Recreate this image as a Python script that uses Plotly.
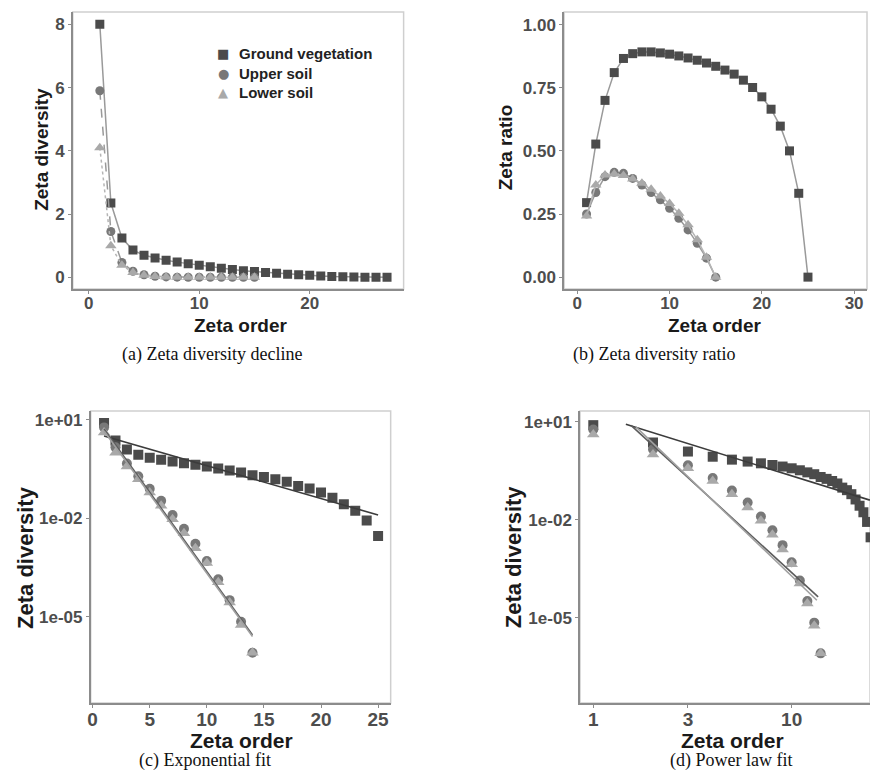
import plotly.graph_objects as go

# ---------------- data ----------------
order_gv = [1, 2, 3, 4, 5, 6, 7, 8, 9, 10, 11, 12, 13, 14, 15, 16, 17, 18, 19, 20, 21, 22, 23, 24, 25, 26, 27]
order_soil = [1, 2, 3, 4, 5, 6, 7, 8, 9, 10, 11, 12, 13, 14, 15]

zeta_ground_veg = [8.0, 2.35, 1.24, 0.86, 0.70, 0.61, 0.54, 0.48, 0.43, 0.38, 0.33, 0.285, 0.25,
                   0.205, 0.18, 0.155, 0.13, 0.097, 0.081, 0.061, 0.042, 0.027, 0.017, 0.0086,
                   0.0029, 0.0, 0.0]
zeta_upper_soil = [5.9, 1.45, 0.47, 0.19, 0.079, 0.034, 0.0126, 0.0048, 0.00167, 0.0005,
                   0.000138, 3.2e-5, 7e-6, 8e-7, 0.0]
zeta_lower_soil = [4.1, 1.0, 0.38, 0.155, 0.061, 0.024, 0.0093, 0.0035, 0.00122, 0.00043,
                   0.000112, 2.7e-5, 5.6e-6, 8e-7, 0.0]

ratio_order_gv = [1, 2, 3, 4, 5, 6, 7, 8, 9, 10, 11, 12, 13, 14, 15, 16, 17, 18, 19, 20, 21, 22, 23, 24, 25]
ratio_ground_veg = [0.295, 0.527, 0.70, 0.81, 0.866, 0.885, 0.892, 0.892, 0.888, 0.883, 0.876,
                    0.868, 0.859, 0.848, 0.835, 0.82, 0.804, 0.78, 0.751, 0.714, 0.665, 0.598,
                    0.50, 0.332, 0.0]
ratio_upper_soil = [0.25, 0.335, 0.398, 0.415, 0.411, 0.391, 0.365, 0.335, 0.306, 0.273, 0.233,
                    0.187, 0.134, 0.075, 0.0]
ratio_lower_soil = [0.242, 0.365, 0.404, 0.408, 0.402, 0.389, 0.372, 0.348, 0.321, 0.292, 0.253,
                    0.207, 0.148, 0.079, 0.0]

# fitted lines
exp_fit_x_gv = [1, 25]
exp_fit_gv = [3.2, 0.0126]
exp_fit_x_soil = [1, 14]
exp_fit_upper = [5.25, 2.8e-6]
exp_fit_lower = [4.57, 2.5e-6]

pow_fit_x_gv = [1.46, 24.8]
pow_fit_gv = [8.5, 0.040]
pow_fit_x_upper = [1.55, 13.6]
pow_fit_upper = [7.9, 4.3e-5]
pow_fit_x_lower = [1.64, 13.4]
pow_fit_lower = [7.1, 3.4e-5]

series_names = ["Ground vegetation", "Upper soil", "Lower soil"]

# ---------------- style ----------------
C_GV, C_UP, C_LO = "#4b4b4b", "#787878", "#a9a9a9"
LINE_GREY = "#9a9a9a"
SANS = "Liberation Sans, Arial, sans-serif"
SERIF = "Liberation Serif, Times New Roman, serif"
W, H = 870, 776


def positive(xs, ys):
    pts = [(a, b) for a, b in zip(xs, ys) if b > 0]
    return [p[0] for p in pts], [p[1] for p in pts]


fig = go.Figure()

# ----- (a) decline -----
fig.add_trace(go.Scatter(x=order_gv, y=zeta_ground_veg, mode="lines+markers", xaxis="x", yaxis="y",
                         line=dict(color=LINE_GREY, width=1.5),
                         marker=dict(symbol="square", size=9, color=C_GV)))
fig.add_trace(go.Scatter(x=order_soil, y=zeta_upper_soil, mode="lines+markers", xaxis="x", yaxis="y",
                         line=dict(color=LINE_GREY, width=1.5, dash="dash"),
                         marker=dict(symbol="circle", size=9, color=C_UP)))
fig.add_trace(go.Scatter(x=order_soil, y=zeta_lower_soil, mode="lines+markers", xaxis="x", yaxis="y",
                         line=dict(color="#b5b5b5", width=1.5, dash="dot"),
                         marker=dict(symbol="triangle-up", size=10, color=C_LO)))

# ----- (b) ratio -----
fig.add_trace(go.Scatter(x=ratio_order_gv, y=ratio_ground_veg, mode="lines+markers", xaxis="x2", yaxis="y2",
                         line=dict(color=LINE_GREY, width=1.5),
                         marker=dict(symbol="square", size=9, color=C_GV)))
fig.add_trace(go.Scatter(x=order_soil, y=ratio_upper_soil, mode="lines+markers", xaxis="x2", yaxis="y2",
                         line=dict(color=LINE_GREY, width=1.5),
                         marker=dict(symbol="circle", size=9, color=C_UP)))
fig.add_trace(go.Scatter(x=order_soil, y=ratio_lower_soil, mode="lines+markers", xaxis="x2", yaxis="y2",
                         line=dict(color="#b5b5b5", width=1.5),
                         marker=dict(symbol="triangle-up", size=10, color=C_LO)))

# ----- (c) exponential & (d) power law -----
for xa, ya in (("x3", "y3"), ("x4", "y4")):
    for xs, ys, sym, col, sz in ((order_gv, zeta_ground_veg, "square", C_GV, 10),
                                 (order_soil, zeta_upper_soil, "circle", C_UP, 10),
                                 (order_soil, zeta_lower_soil, "triangle-up", C_LO, 11)):
        px, py = positive(xs, ys)
        fig.add_trace(go.Scatter(x=px, y=py, mode="markers", xaxis=xa, yaxis=ya,
                                 marker=dict(symbol=sym, size=sz, color=col)))

fig.add_trace(go.Scatter(x=exp_fit_x_gv, y=exp_fit_gv, mode="lines", xaxis="x3", yaxis="y3",
                         line=dict(color="#3c3c3c", width=1.6)))
fig.add_trace(go.Scatter(x=exp_fit_x_soil, y=exp_fit_upper, mode="lines", xaxis="x3", yaxis="y3",
                         line=dict(color="#5c5c5c", width=1.6)))
fig.add_trace(go.Scatter(x=exp_fit_x_soil, y=exp_fit_lower, mode="lines", xaxis="x3", yaxis="y3",
                         line=dict(color="#a0a0a0", width=1.6)))

fig.add_trace(go.Scatter(x=pow_fit_x_gv, y=pow_fit_gv, mode="lines", xaxis="x4", yaxis="y4",
                         line=dict(color="#3c3c3c", width=1.6)))
fig.add_trace(go.Scatter(x=pow_fit_x_upper, y=pow_fit_upper, mode="lines", xaxis="x4", yaxis="y4",
                         line=dict(color="#5c5c5c", width=1.6)))
fig.add_trace(go.Scatter(x=pow_fit_x_lower, y=pow_fit_lower, mode="lines", xaxis="x4", yaxis="y4",
                         line=dict(color="#a0a0a0", width=1.6)))

# ---------------- axes ----------------
tick_font_ab = dict(family=SANS, size=17, color="#4d4d4d", weight="bold")
tick_font_cd_y = dict(family=SANS, size=17, color="#4d4d4d", weight="bold")
tick_font_cd_x = dict(family=SANS, size=19, color="#4d4d4d", weight="bold")
common = dict(showgrid=False, zeroline=False, showline=True, linecolor="#8c8c8c", linewidth=1.5,
              ticks="outside", ticklen=3, tickwidth=1, tickcolor="#8c8c8c", mirror=False,
              fixedrange=True)
xcommon = dict(common, ticklabelstandoff=-5)


def dom_x(a, b):
    return [a / W, b / W]


def dom_y(top, bottom):
    return [1 - bottom / H, 1 - top / H]


fig.update_layout(
    xaxis=dict(xcommon, domain=dom_x(70, 402), range=[-1.45, 28.5], tickvals=[0, 10, 20],
               tickfont=tick_font_ab, anchor="y"),
    yaxis=dict(common, domain=dom_y(12, 289), range=[-0.37, 8.39], tickvals=[0, 2, 4, 6, 8],
               tickfont=tick_font_ab, anchor="x"),
    xaxis2=dict(xcommon, domain=dom_x(563, 867), range=[-1.44, 31.4], tickvals=[0, 10, 20, 30],
                tickfont=tick_font_ab, anchor="y2"),
    yaxis2=dict(common, domain=dom_y(12, 289), range=[-0.047, 1.05],
                tickvals=[0, 0.25, 0.5, 0.75, 1.0],
                ticktext=["0.00", "0.25", "0.50", "0.75", "1.00"],
                tickfont=tick_font_ab, anchor="x2"),
    xaxis3=dict(xcommon, domain=dom_x(88, 389), range=[-0.17, 26.1], tickvals=[0, 5, 10, 15, 20, 25],
                tickfont=tick_font_cd_x, anchor="y3"),
    yaxis3=dict(common, type="log", domain=dom_y(411, 703), range=[-7.63, 1.27],
                tickvals=[10, 0.01, 1e-5], ticktext=["1e+01", "1e-02", "1e-05"],
                tickfont=tick_font_cd_y, anchor="x3"),
    xaxis4=dict(xcommon, type="log", domain=dom_x(579, 870), range=[-0.067, 1.395],
                tickvals=[1, 3, 10], ticktext=["1", "3", "10"],
                tickfont=tick_font_cd_x, anchor="y4"),
    yaxis4=dict(common, type="log", domain=dom_y(411, 703), range=[-7.62, 1.337],
                tickvals=[10, 0.01, 1e-5], ticktext=["1e+01", "1e-02", "1e-05"],
                tickfont=tick_font_cd_y, anchor="x4"),
)

# light panel borders (top / right)
shapes = []
for xa, ya in (("x", "y"), ("x2", "y2"), ("x3", "y3"), ("x4", "y4")):
    shapes.append(dict(type="rect", xref=f"{xa} domain", yref=f"{ya} domain", x0=0, x1=1, y0=0, y1=1,
                       line=dict(color="#cfcfcf", width=1.5), layer="below"))

# ---------------- text ----------------
ann = []


def txt(x, y, s, size, family=SANS, bold=True, angle=0, color="#1a1a1a", xanchor="center", align="center"):
    ann.append(dict(x=x / W, y=1 - y / H, xref="paper", yref="paper", text=s, showarrow=False,
                    textangle=angle, xanchor=xanchor, yanchor="middle", align=align,
                    font=dict(family=family, size=size, color=color,
                              weight="bold" if bold else "normal")))


# axis titles
txt(239, 325, "Zeta order", 19)
txt(714, 325, "Zeta order", 19)
txt(38, 149, "Zeta diversity", 19, angle=-90)
txt(504, 147, "Zeta ratio", 19, angle=-90)
txt(239, 740, "Zeta order", 21)
txt(732, 740, "Zeta order", 21)
txt(22, 557, "Zeta diversity", 22, angle=-90)
txt(512, 557, "Zeta diversity", 22, angle=-90)

# captions
txt(210, 355, "(a) Zeta diversity decline", 18, family=SERIF, bold=False, color="#111")
txt(653, 355, "(b) Zeta diversity ratio", 18, family=SERIF, bold=False, color="#111")
txt(203, 760, "(c) Exponential fit", 18, family=SERIF, bold=False, color="#111")
txt(731, 760, "(d) Power law fit", 18, family=SERIF, bold=False, color="#111")

# legend of panel (a): names as one block, symbols aligned to its lines
LEG_FONT = 15
leg_mid = 73
leg_step = LEG_FONT * 1.3
txt(235, leg_mid, "<br>".join(series_names), LEG_FONT, xanchor="left", align="left", color="#222")
legend_syms = ["■", "●", "▲"]
legend_cols = [C_GV, C_UP, C_LO]
for i, (s, c) in enumerate(zip(legend_syms, legend_cols)):
    txt(221, leg_mid + (i - 1) * leg_step, s, 13, family="DejaVu Sans", bold=False, color=c)

fig.update_layout(
    width=W, height=H, margin=dict(l=0, r=0, t=0, b=0),
    paper_bgcolor="white", plot_bgcolor="white",
    showlegend=False, annotations=ann, shapes=shapes,
)

fig.write_html("out.html")
